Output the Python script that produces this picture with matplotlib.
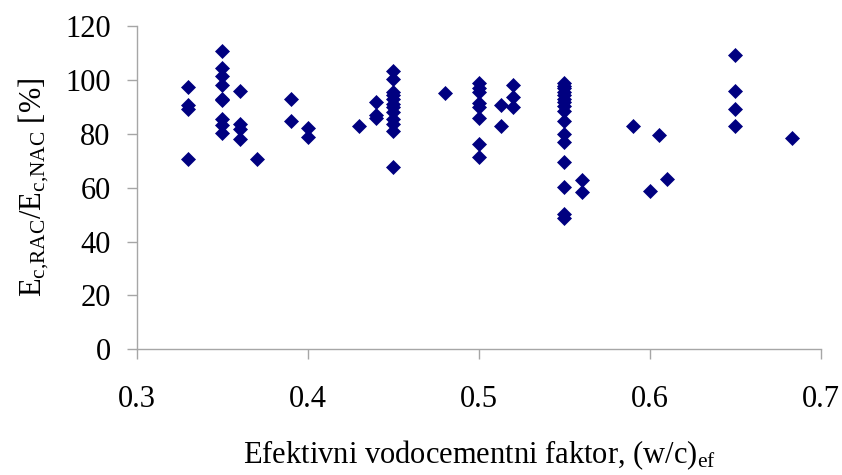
import matplotlib.pyplot as plt

plt.rcParams["font.family"] = ["Liberation Serif", "DejaVu Serif"]
plt.rcParams["mathtext.fontset"] = "custom"
plt.rcParams["mathtext.rm"] = "Liberation Serif"
plt.rcParams["mathtext.it"] = "Liberation Serif:italic"

# effective w/c ratio and modulus ratio
wc = (
    [0.33] * 4
    + [0.35] * 9
    + [0.36] * 4
    + [0.37]
    + [0.39] * 2
    + [0.40] * 2
    + [0.43]
    + [0.44] * 3
    + [0.45] * 12
    + [0.48]
    + [0.50] * 8
    + [0.513] * 2
    + [0.52] * 3
    + [0.55] * 16
    + [0.56] * 2
    + [0.59, 0.60, 0.605, 0.61]
    + [0.65] * 4
    + [0.683]
)
ratio = [
    97.4, 90.5, 89.3, 70.6,
    110.9, 104.5, 101.3, 98.2, 93.0, 92.4, 85.6, 83.1, 80.3,
    95.9, 83.7, 81.8, 78.1,
    70.6,
    93.0, 84.9,
    82.2, 78.7,
    82.8,
    91.8, 86.8, 85.8,
    103.2, 100.5, 95.5, 94.3, 92.8, 91.2, 89.9, 88.1, 85.6, 83.7, 81.2, 67.8,
    95.3,
    98.9, 97.0, 95.5, 91.5, 89.9, 85.8, 76.2, 71.5,
    90.8, 82.7,
    98.2, 93.7, 89.9,
    98.9, 97.8, 96.8, 95.5, 94.3, 93.0, 91.8, 90.3, 88.3, 84.9, 80.0, 76.9,
    69.4, 60.4, 50.4, 48.9,
    62.8, 58.2,
    82.8, 58.8, 79.7, 63.2,
    109.4, 95.9, 89.3, 82.8,
    78.4,
]

x_ticks = [0.3, 0.4, 0.5, 0.6, 0.7]
y_ticks = [0, 20, 40, 60, 80, 100, 120]

fig = plt.figure(figsize=(8.42, 4.75), dpi=100)
ax = fig.add_axes([0.1627, 0.2646, 0.8123, 0.6807])

ax.plot(wc, ratio, linestyle="none", marker="D", markersize=6.8,
        color="#000080", markeredgecolor="#000080", markeredgewidth=0.5)

ax.set_xlim(0.3, 0.7)
ax.set_ylim(0, 120)
ax.set_xticks(x_ticks)
ax.set_xticklabels([f"{v:.1f}" for v in x_ticks])
ax.set_yticks(y_ticks)

for side in ["top", "right"]:
    ax.spines[side].set_visible(False)
for side in ["left", "bottom"]:
    ax.spines[side].set_color("#a6a6a6")
    ax.spines[side].set_linewidth(1.0)

ax.tick_params(axis="x", direction="out", length=7, width=1.0,
               color="#a6a6a6", labelsize=22, pad=19)
ax.tick_params(axis="y", direction="out", length=7, width=1.0,
               color="#a6a6a6", labelsize=22, pad=12)

ax.set_xlabel(r"Efektivni vodocementni faktor, (w/c)$_{\mathrm{ef}}$",
              fontsize=22, labelpad=17)
ax.set_ylabel(r"E$_{\mathrm{c{,}RAC}}$/E$_{\mathrm{c{,}NAC}}$ [%]",
              fontsize=22, labelpad=10)

fig.savefig("out.png", dpi=100)
